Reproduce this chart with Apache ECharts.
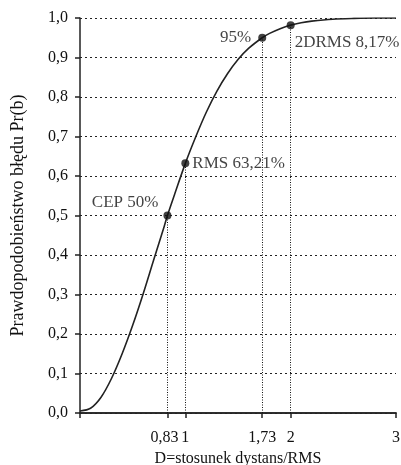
<!DOCTYPE html>
<html>
<head>
<meta charset="utf-8">
<script src="https://cdn.jsdelivr.net/npm/echarts@6/dist/echarts.min.js"></script>
<style>
  html, body { margin: 0; padding: 0; background: #fff; }
  #chart { width: 401px; height: 465px; }
</style>
</head>
<body>
<div id="chart"></div>
<script>
// krzywa
const curveD = [0, 0.1, 0.2, 0.3, 0.4, 0.5, 0.6, 0.7, 0.8, 0.83, 0.9, 1.0, 1.1, 1.2, 1.3, 1.4, 1.5, 1.6, 1.73, 1.8, 1.9, 2.0, 2.1, 2.2, 2.4, 2.6, 2.8, 3.0]
const curveP = [0.005, 0.012, 0.04, 0.088, 0.15, 0.222, 0.302, 0.388, 0.473, 0.5, 0.555, 0.632, 0.7, 0.762, 0.815, 0.859, 0.895, 0.923, 0.95, 0.961, 0.973, 0.982, 0.988, 0.992, 0.997, 0.999, 1.0, 1.0]

// punkty charakterystyczne
const keyD = [0.83, 1, 1.73, 2]
const keyP = [0.5, 0.6321, 0.95, 0.9817]
const keyLabels = ['CEP 50%', 'RMS 63,21%', '95%', '2DRMS 8,17%']

const xLabelValues = [1, 1.73, 2, 3]
const xTickValues = [0, 1, 1.73, 2, 3]
const xExtraValues = [0.83] // osobna oś, żeby etykieta nie znikała

const serif = 'Liberation Serif'
const ink = '#111'

// ustawienie etykiet punktów
const labelPlacement = [
  { position: 'left', distance: 5, offset: [0, -13] },
  { position: 'right', distance: 3, offset: [0, 0] },
  { position: 'left', distance: 7, offset: [0, 0] },
  { position: 'right', distance: 2, offset: [-2, 17] }
]

const fmt = v => String(v).replace('.', ',')

const xAxisBase = (ticks, labels, pad) => ({
  type: 'value',
  min: 0,
  max: 3,
  position: 'bottom',
  axisLine: { show: true, lineStyle: { color: '#222', width: 1.5 } },
  axisTick: { show: true, length: 5, customValues: ticks, lineStyle: { color: '#222', width: 1.5 } },
  axisLabel: {
    customValues: labels,
    hideOverlap: false,
    margin: 17,
    padding: pad,
    fontFamily: serif,
    fontSize: 16,
    color: ink,
    formatter: v => fmt(v)
  },
  splitLine: { show: false }
})

const chart = echarts.init(document.getElementById('chart'))

chart.setOption({
  animation: false,
  grid: { left: 80, right: 5, top: 18, bottom: 52, outerBoundsMode: 'none' },
  xAxis: [
    {
      ...xAxisBase(xTickValues, xLabelValues, [0, 0, 0, 0]),
      name: 'D=stosunek dystans/RMS',
      nameLocation: 'middle',
      nameGap: 38,
      nameTextStyle: { fontFamily: serif, fontSize: 16, color: ink }
    },
    xAxisBase(xExtraValues, xExtraValues, [0, 6, 0, 0])
  ],
  yAxis: {
    type: 'value',
    min: 0,
    max: 1,
    interval: 0.1,
    name: 'Prawdopodobieństwo błędu Pr(b)',
    nameLocation: 'middle',
    nameGap: 53,
    nameTextStyle: { fontFamily: serif, fontSize: 18, color: ink },
    axisLine: { show: true, lineStyle: { color: '#222', width: 1.5 } },
    axisTick: { show: true, length: 5, lineStyle: { color: '#222', width: 1.5 } },
    axisLabel: {
      margin: 12,
      fontFamily: serif,
      fontSize: 16,
      color: ink,
      formatter: v => v.toFixed(1).replace('.', ',')
    },
    splitLine: { show: true, lineStyle: { color: '#222', width: 1, type: [2, 3] } }
  },
  series: [
    {
      type: 'line',
      data: curveD.map((d, i) => [d, curveP[i]]),
      smooth: 0.3,
      showSymbol: false,
      lineStyle: { color: '#222', width: 1.6 },
      z: 3
    },
    {
      type: 'scatter',
      data: keyD.map((d, i) => ({
        value: [d, keyP[i]],
        label: {
          show: true,
          formatter: keyLabels[i],
          ...labelPlacement[i]
        }
      })),
      symbolSize: 8,
      itemStyle: { color: ink },
      label: { fontFamily: serif, fontSize: 17, color: ink },
      markLine: {
        silent: true,
        symbol: 'none',
        label: { show: false },
        lineStyle: { color: ink, width: 1, type: [1, 1.5] },
        data: keyD.map((d, i) => [{ coord: [d, 0] }, { coord: [d, keyP[i]] }])
      },
      z: 4
    }
  ]
})
</script>
</body>
</html>
